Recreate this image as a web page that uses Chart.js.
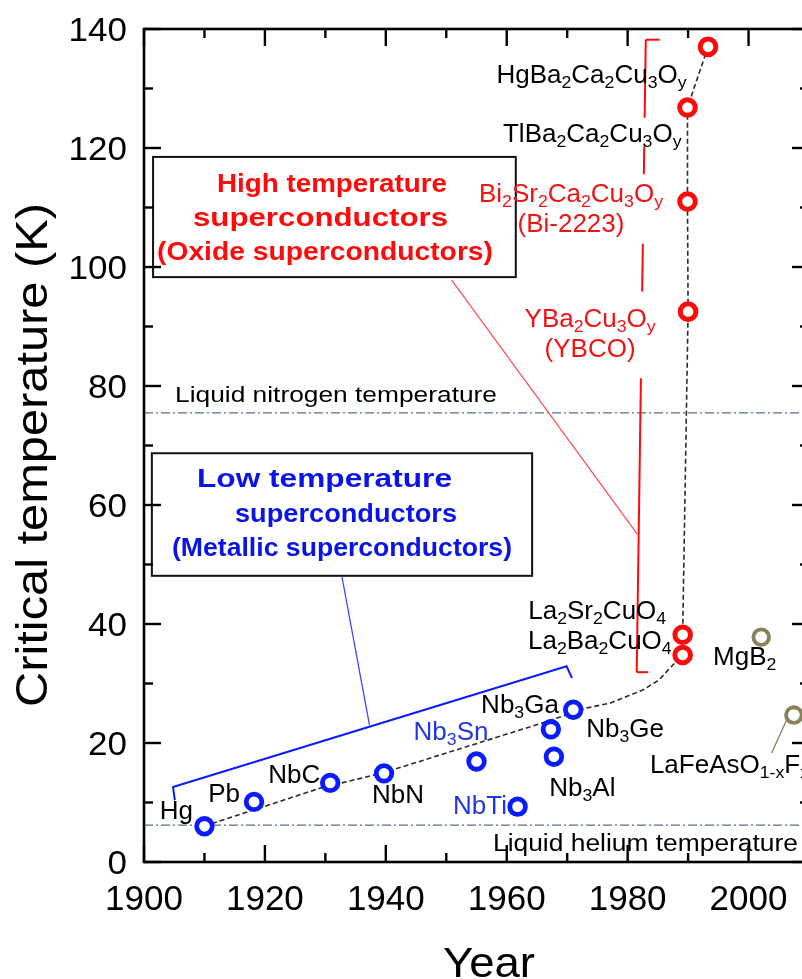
<!DOCTYPE html>
<html>
<head>
<meta charset="utf-8">
<title>Critical temperature vs year</title>
<script src="https://cdn.jsdelivr.net/npm/chart.js@4.4.1/dist/chart.umd.min.js"></script>
<style>
  html, body { margin: 0; padding: 0; background: #fff; overflow: hidden; }
  #wrap { width: 802px; height: 979px; overflow: hidden; position: relative; }
  #wrap canvas { position: absolute; left: 0; top: 0; }
</style>
</head>
<body>
<div id="wrap"><canvas id="tcChart" width="830" height="979"></canvas></div>
<script>
// ---- data: year of discovery / critical temperature (K) ----
const lowTcNames  = ['Hg', 'Pb', 'NbC', 'NbN', 'Nb{3}Sn', 'NbTi', 'Nb{3}Al', 'Nb{3}Ga', 'Nb{3}Ge'];
const lowTcYears  = [1910.0, 1918.2, 1930.8, 1939.7, 1955.0, 1961.8, 1967.8, 1967.3, 1971.0];
const lowTcValues = [6.0, 10.1, 13.3, 14.9, 16.9, 9.3, 17.7, 22.3, 25.6];

const oxideNames  = ['La{2}Ba{2}CuO{4}', 'La{2}Sr{2}CuO{4}', 'YBa{2}Cu{3}O{y}', 'Bi{2}Sr{2}Ca{2}Cu{3}O{y}', 'TlBa{2}Ca{2}Cu{3}O{y}', 'HgBa{2}Ca{2}Cu{3}O{y}'];
const oxideNotes  = ['', '', '(YBCO)', '(Bi-2223)', '', ''];
const oxideYears  = [1989.1, 1989.1, 1990.0, 1989.9, 1989.9, 1993.3];
const oxideValues = [34.8, 38.2, 92.5, 111.0, 126.8, 137.0];

const otherNames  = ['MgB{2}', 'LaFeAsO{1-x}F{x}'];
const otherYears  = [2002.1, 2007.5];
const otherValues = [37.8, 24.7];

// hand-drawn guide curve through the record values
const trendYears  = [1910.0, 1919.2, 1929.1, 1939.6, 1966.0, 1973.3, 1977.1, 1982.5, 1985.2, 1987.0, 1989.1, 1989.1, 1990.0, 1989.9, 1989.9, 1993.3];
const trendValues = [6.05, 9.1, 12.4, 15.0, 23.4, 25.9, 26.7, 28.9, 30.6, 32.6, 34.8, 38.2, 92.5, 111.0, 126.8, 137.0];

const xTicks = [1900, 1920, 1940, 1960, 1980, 2000];
const yTicks = [0, 20, 40, 60, 80, 100, 120, 140];
const liquidNitrogen = 75.5;
const liquidHelium = 6.2;

// ---- styling ----
const FONT = '"Liberation Sans", Arial, sans-serif';
const BLUE = '#0a1cff', RED = '#ff0a0a', OLIVE = '#8a8058';
const BLUE_TXT = '#2336e6', RED_TXT = '#f01414';
const REF_LINE = '#55708e';

// label placement relative to each marker (px): [dx, dy, align]
const lowTcLabelPos = [[-11.5, -16, 'right'], [-14, -9, 'right'], [-10, -9, 'right'], [14, 21, 'center'],
  [-25.5, -30, 'center'], [-10.7, -2, 'right'], [28.5, 30, 'center'], [8, -25, 'right'], [13, 18, 'left']];
const lowTcLabelColor = ['#000', '#000', '#000', '#000', BLUE_TXT, BLUE_TXT, '#000', '#000', '#000'];
const oxideLabelPos = [[-11, -15, 'right'], [-16.5, -25, 'right'], [-98, 6.5, 'center'],
  [-116.5, -8.5, 'center'], [-6, 25.5, 'right'], [-21.5, 27, 'right']];
const oxideLabelColor = ['#000', '#000', RED_TXT, RED_TXT, '#000', '#000'];
const otherLabelPos = [[-16.5, 19, 'center'], [-144, 49, 'left']];

// annotation geometry in data units
const highBox = { x0: 1901.5, x1: 1961.5, y0: 98.3, y1: 118.5 };
const lowBox  = { x0: 1901.3, x1: 1964.2, y0: 48.1, y1: 68.7 };

function toPoints(xs, ys) {
  return xs.map((v, i) => ({ x: v, y: ys[i] }));
}

// "Nb{3}Sn" -> plain / subscript runs
function richParts(str) {
  const parts = [];
  const re = /([^{}]+)|\{([^}]*)\}/g;
  let m;
  while ((m = re.exec(str))) {
    if (m[1]) parts.push({ t: m[1], sub: false });
    else parts.push({ t: m[2], sub: true });
  }
  return parts;
}

// y is the middle of the capitals
function drawRich(ctx, str, x, y, o) {
  const size = o.size || 25;
  const subSize = size * 0.68;
  const weight = o.weight || 'normal';
  const parts = richParts(str);
  ctx.save();
  ctx.fillStyle = o.color || '#000';
  ctx.textBaseline = 'alphabetic';
  ctx.textAlign = 'left';
  let w = 0;
  parts.forEach(p => {
    ctx.font = weight + ' ' + (p.sub ? subSize : size) + 'px ' + FONT;
    p.w = ctx.measureText(p.t).width;
    w += p.w;
  });
  const sx = o.fit ? o.fit / w : (o.sx || 1);
  ctx.translate(x, y);
  if (o.rotate) ctx.rotate(o.rotate);
  ctx.scale(sx, 1);
  let cx = o.align === 'right' ? -w : o.align === 'center' ? -w / 2 : 0;
  const base = size * 0.36;
  parts.forEach(p => {
    ctx.font = weight + ' ' + (p.sub ? subSize : size) + 'px ' + FONT;
    ctx.fillText(p.t, cx, p.sub ? base + size * 0.2 : base);
    cx += p.w;
  });
  ctx.restore();
}

function seg(ctx, x1, y1, x2, y2) {
  ctx.beginPath();
  ctx.moveTo(x1, y1);
  ctx.lineTo(x2, y2);
  ctx.stroke();
}

// dash-dot reference lines, under the markers
const refLines = {
  id: 'refLines',
  beforeDatasetsDraw(chart) {
    const { ctx, chartArea: a, scales: { y } } = chart;
    ctx.save();
    ctx.strokeStyle = REF_LINE;
    ctx.lineWidth = 1.3;
    ctx.setLineDash([9, 3, 2, 3]);
    [liquidNitrogen, liquidHelium].forEach(v => {
      const py = y.getPixelForValue(v);
      seg(ctx, a.left, py, a.right, py);
    });
    ctx.restore();
  }
};

// closed frame with inward ticks on all four sides, plus tick labels
const frame = {
  id: 'frame',
  afterDraw(chart) {
    const { ctx, chartArea: a, scales: { x, y } } = chart;
    ctx.save();
    ctx.strokeStyle = '#000';
    ctx.lineWidth = 2.6;
    ctx.strokeRect(a.left, a.top, a.right - a.left, a.bottom - a.top);
    ctx.lineWidth = 2.4;
    for (let v = x.min; v <= x.max; v += 10) {
      const px = x.getPixelForValue(v);
      const len = (v - x.min) % 20 === 0 ? 17 : 9;
      seg(ctx, px, a.bottom, px, a.bottom - len);
      seg(ctx, px, a.top, px, a.top + len);
    }
    for (let v = y.min; v <= y.max; v += 10) {
      const py = y.getPixelForValue(v);
      const len = v % 20 === 0 ? 17 : 9;
      seg(ctx, a.left, py, a.left + len, py);
      seg(ctx, a.right, py, a.right - len, py);
    }
    x.ticks.forEach(t => {
      drawRich(ctx, String(t.value), x.getPixelForValue(t.value), a.bottom + 35.5, { size: 35, align: 'center' });
    });
    y.ticks.forEach(t => {
      drawRich(ctx, String(t.value), a.left - 17, y.getPixelForValue(t.value), { size: 34, sx: 1.03, align: 'right' });
    });
    ctx.restore();
  }
};

// boxes, brackets, pointers and all text
const annotations = {
  id: 'annotations',
  afterDatasetsDraw(chart) {
    const { ctx, scales: { x, y } } = chart;
    const X = v => x.getPixelForValue(v);
    const Y = v => y.getPixelForValue(v);

    ctx.save();
    // reference line captions
    drawRich(ctx, 'Liquid nitrogen temperature', 175, Y(liquidNitrogen) - 19, { size: 22.5, fit: 322, align: 'left' });
    drawRich(ctx, 'Liquid helium temperature', 493, Y(liquidHelium) + 18, { size: 23, fit: 305, align: 'left' });

    // caption boxes
    ctx.lineWidth = 2;
    ctx.strokeStyle = '#111';
    ctx.strokeRect(X(highBox.x0), Y(highBox.y1), X(highBox.x1) - X(highBox.x0), Y(highBox.y0) - Y(highBox.y1));
    ctx.strokeRect(X(lowBox.x0), Y(lowBox.y1), X(lowBox.x1) - X(lowBox.x0), Y(lowBox.y0) - Y(lowBox.y1));

    // high-Tc pointer and bracket
    ctx.strokeStyle = '#ff4a4a';
    ctx.lineWidth = 1.2;
    seg(ctx, X(1950.9), Y(97.8), X(1981.6), Y(55.1));

    ctx.strokeStyle = RED;
    ctx.lineWidth = 2;
    const bx = t => X(1981.5 + (t - 31.9) / (138.2 - 31.9) * 1.5);
    [[138.2, 125.1], [120.3, 115.6], [103.9, 95.9], [81.3, 31.9]].forEach(r => {
      seg(ctx, bx(r[0]), Y(r[0]), bx(r[1]), Y(r[1]));
    });
    seg(ctx, bx(138.2), Y(138.2), X(1985.3), Y(138.2));
    seg(ctx, bx(31.9), Y(31.9), X(1983.4), Y(31.9));

    // low-Tc pointer and bracket
    ctx.strokeStyle = '#3a48ff';
    ctx.lineWidth = 1.3;
    seg(ctx, X(1932.75), Y(47.9), X(1937.3), Y(23.0));
    ctx.strokeStyle = BLUE;
    ctx.lineWidth = 2;
    ctx.beginPath();
    ctx.moveTo(X(1905.1), Y(10.4));
    ctx.lineTo(X(1904.8), Y(12.6));
    ctx.lineTo(X(1969.9), Y(32.9));
    ctx.lineTo(X(1970.8), Y(30.9));
    ctx.stroke();

    // box captions
    const hi = [['High temperature', 217, 230], ['superconductors', 193, 255], ['(Oxide superconductors)', 157, 336]];
    hi.forEach((l, i) => drawRich(ctx, l[0], l[1], 183.3 + i * 33.7, { size: 25, weight: 'bold', color: RED, fit: l[2] }));
    const lo = [['Low temperature', 197, 255], ['superconductors', 235, 222], ['(Metallic superconductors)', 172, 340]];
    lo.forEach((l, i) => drawRich(ctx, l[0], l[1], 477.5 + i * 34.8, { size: 26, weight: 'bold', color: '#0a14e8', fit: l[2] }));

    // marker labels
    lowTcNames.forEach((n, i) => {
      const p = lowTcLabelPos[i];
      drawRich(ctx, n, X(lowTcYears[i]) + p[0], Y(lowTcValues[i]) + p[1], { size: 25, sx: 1.04, align: p[2], color: lowTcLabelColor[i] });
    });
    oxideNames.forEach((n, i) => {
      const p = oxideLabelPos[i];
      const px = X(oxideYears[i]) + p[0], py = Y(oxideValues[i]) + p[1];
      drawRich(ctx, n, px, py, { size: 25, sx: 1.04, align: p[2], color: oxideLabelColor[i] });
      if (oxideNotes[i]) drawRich(ctx, oxideNotes[i], px, py + 30, { size: 25, sx: 1.04, align: 'center', color: oxideLabelColor[i] });
    });
    otherNames.forEach((n, i) => {
      const p = otherLabelPos[i];
      drawRich(ctx, n, X(otherYears[i]) + p[0], Y(otherValues[i]) + p[1], { size: 25, sx: 1.04, align: p[2] });
    });
    // leader for the iron pnictide label
    ctx.strokeStyle = OLIVE;
    ctx.lineWidth = 1.3;
    const fx = X(otherYears[1]), fy = Y(otherValues[1]);
    seg(ctx, fx - 7.3, fy + 5, fx - 22.3, fy + 38);

    // axis titles
    drawRich(ctx, 'Critical temperature (K)', 31, 455, { size: 45, fit: 504, align: 'center', rotate: -Math.PI / 2 });
    drawRich(ctx, 'Year', 489, 962, { size: 42, fit: 92, align: 'center' });
    ctx.restore();
  }
};

const marker = (color, width) => ({
  showLine: false,
  pointStyle: 'circle',
  pointRadius: 7.8,
  pointBorderWidth: width,
  borderColor: color,
  pointBorderColor: color,
  backgroundColor: '#fff',
  pointBackgroundColor: '#fff',
  clip: false,
  order: 0
});

new Chart(document.getElementById('tcChart'), {
  type: 'scatter',
  data: {
    datasets: [
      { label: 'Metallic', data: toPoints(lowTcYears, lowTcValues), ...marker(BLUE, 4.8) },
      { label: 'Oxide', data: toPoints(oxideYears, oxideValues), ...marker(RED, 5) },
      { label: 'Other', data: toPoints(otherYears, otherValues), ...marker(OLIVE, 3.8) },
      {
        label: 'Trend',
        data: toPoints(trendYears, trendValues),
        showLine: true,
        borderColor: '#2a2a2a',
        borderWidth: 1.6,
        borderDash: [5, 3],
        pointRadius: 0,
        tension: 0,
        clip: false,
        order: 5
      }
    ]
  },
  options: {
    responsive: false,
    animation: false,
    events: [],
    layout: { padding: { top: 29, right: 21, left: 0, bottom: 0 } },
    plugins: { legend: { display: false }, tooltip: { enabled: false } },
    scales: {
      x: {
        type: 'linear',
        min: 1900,
        max: 2010,
        grid: { display: false, drawTicks: false },
        border: { display: false },
        afterBuildTicks: s => { s.ticks = xTicks.map(v => ({ value: v })); },
        afterFit: s => { s.height = 117; },
        ticks: { display: false }
      },
      y: {
        type: 'linear',
        min: 0,
        max: 140,
        grid: { display: false, drawTicks: false },
        border: { display: false },
        afterBuildTicks: s => { s.ticks = yTicks.map(v => ({ value: v })); },
        afterFit: s => { s.width = 144; },
        ticks: { display: false }
      }
    }
  },
  plugins: [refLines, annotations, frame]
});
</script>
</body>
</html>
